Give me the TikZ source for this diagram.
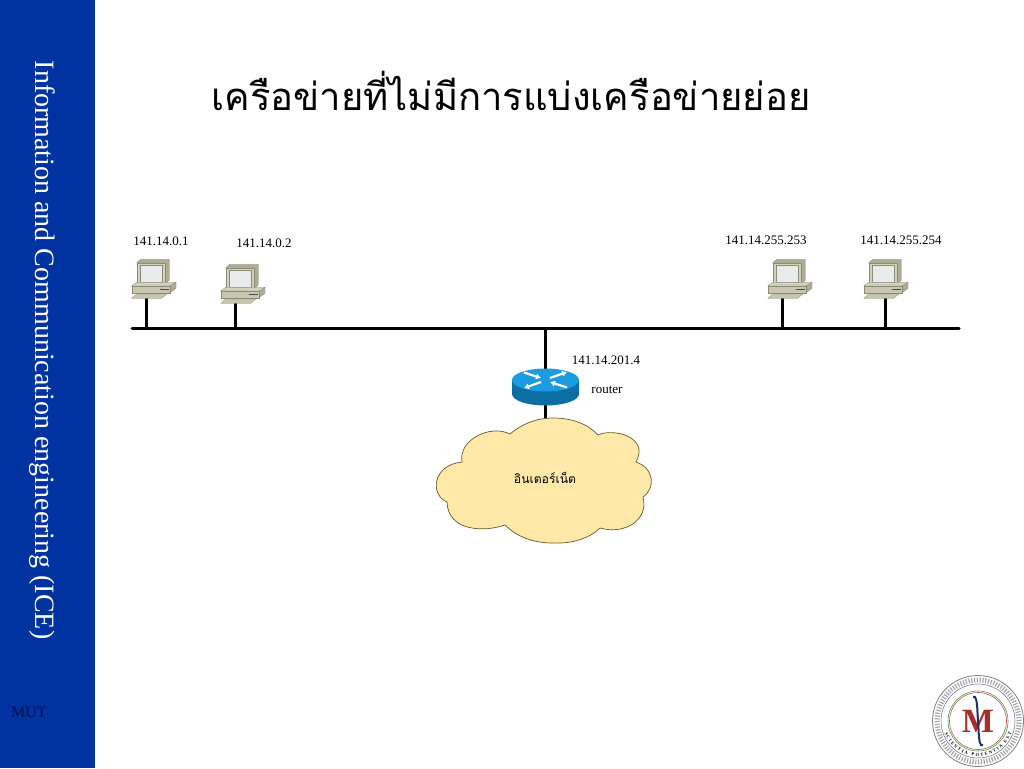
\documentclass[tikz,border=0pt]{standalone}
\usepackage{fontspec}
\setmainfont{Liberation Serif}
\newfontfamily\thaifont[Script=Thai]{Loma}
\usetikzlibrary{arrows.meta}
\usetikzlibrary{decorations.text}
\definecolor{sidebar}{HTML}{0033A0}
\definecolor{mutink}{HTML}{000F50}
\definecolor{pcbody}{HTML}{C8C6AE}
\definecolor{pcside}{HTML}{AEAC94}
\definecolor{pcface}{HTML}{D2D1BC}
\definecolor{pcscreen}{HTML}{E8EBEA}
\definecolor{routertop}{HTML}{1C9BE0}
\definecolor{routerside}{HTML}{0B6FA6}
\definecolor{cloudfill}{HTML}{FFE8A8}
\definecolor{cloudline}{HTML}{6B5A28}
\definecolor{sealred}{HTML}{A82C28}
\definecolor{sealblue}{HTML}{1F2F6B}
\tikzset{
  busline/.style={line width=3pt, line cap=round},
  tapline/.style={line width=3pt},
  iplabel/.style={font=\fontsize{13}{15}\selectfont, inner sep=0pt},
  pcpart/.style={draw=pcside!80!black, line width=0.3pt},
  routerarrow/.style={white, line width=2.2pt, -{Latex[length=5pt,width=6.5pt]}},
  pcicon/.pic={
    \filldraw[pcpart, fill=pcside] (5.7,2.7) -- (9.7,-0.7) -- (38.3,-0.7) -- (38.3,20) -- (34,24.3) -- cycle;
    \filldraw[pcpart, fill=pcface] (5.7,2.7) rectangle (34,24.3);
    \filldraw[pcpart, fill=pcscreen] (9,5) rectangle (31,22);
    \filldraw[pcpart, fill=pcface] (0.7,26) -- (5.7,22.3) -- (45,22.3) -- (39,26) -- cycle;
    \filldraw[pcpart, fill=pcside] (39,26) -- (45,22.3) -- (45,28.3) -- (39,32.7) -- cycle;
    \filldraw[pcpart, fill=pcbody] (0.7,26) rectangle (39,32.7);
    \draw[black!70, line width=0.6pt] (29,29) -- (38,29);
    \filldraw[pcpart, fill=pcbody] (0.7,38.3) -- (5.7,34) -- (35.7,34) -- (30.7,38.3) -- cycle;
  },
}
\begin{document}
\begin{tikzpicture}[x=1pt, y=-1pt]
\useasboundingbox (0,0) rectangle (1024,768);
% side bar
\fill[sidebar] (0,0) rectangle (95,768);
\node[rotate=-90, text=white, font=\fontsize{28}{32}\selectfont, inner sep=0pt] (sidetitle) at (42,350) {Information and Communication engineering (ICE)};
\node[text=mutink, font=\fontsize{16}{18}\selectfont, inner sep=0pt] (mut) at (29,712) {MUT};
% title
\node[font=\thaifont\fontsize{38.2}{44}\selectfont, inner sep=0pt] (title) at (511,91) {เครือข่ายที่ไม่มีการแบ่งเครือข่ายย่อย};

% bus ends and taps
\coordinate (busleft) at (132,328);
\coordinate (busright) at (959,328);
\coordinate (tapa) at (146,328);
\coordinate (tapb) at (235,328);
\coordinate (tapc) at (782,328);
\coordinate (tapd) at (885,328);
\coordinate (taprouter) at (545,328);
\coordinate (porta) at (146,296);
\coordinate (portb) at (235,301);
\coordinate (portc) at (782,296);
\coordinate (portd) at (885,296);
\coordinate (routerup) at (545,380);
\coordinate (routerdown) at (545,404);
\coordinate (cloudtop) at (545,420);

% links
\foreach \n in {a,b,c,d}
{
\draw[tapline] (port\n) -- (tap\n);
}
\draw[tapline] (taprouter) -- (routerup);
\draw[tapline] (routerdown) -- (cloudtop);
\draw[busline] (busleft) -- (busright);

% computers
\pic at (131,260) {pcicon};
\pic at (220,265) {pcicon};
\pic at (767,260) {pcicon};
\pic at (863,260) {pcicon};

% router
\fill[routerside] (512,380) -- (512,394) arc[start angle=180, end angle=360, x radius=33.5, y radius=-11.5] -- (579,380) -- cycle;
\fill[routertop] (545.5,380) ellipse[x radius=33.5, y radius=11.5];
\draw[routerarrow] (524,372.5) -- (541,378);
\draw[routerarrow] (567,387.5) -- (550,382);
\draw[routerarrow] (541,382) -- (524,388);
\draw[routerarrow] (550,378) -- (567,372);

% cloud
\filldraw[fill=cloudfill, draw=cloudline, line width=0.7pt] (510,434)
  .. controls (522,424) and (536,418) .. (553,418)
  .. controls (572,418) and (588,424) .. (598,435)
  .. controls (612,428) and (650,436) .. (636,462)
  .. controls (654,468) and (656,488) .. (643,497)
  .. controls (649,520) and (625,535) .. (600,528)
  .. controls (590,538) and (572,544) .. (553,543)
  .. controls (532,543) and (516,536) .. (505,525)
  .. controls (485,532) and (448,532) .. (447,502)
  .. controls (430,495) and (432,465) .. (462,462)
  .. controls (458,440) and (490,424) .. (510,434) -- cycle;

% texts
\node[font=\thaifont\fontsize{12.2}{14}\selectfont, inner sep=0pt] (internet) at (545,478) {อินเตอร์เน็ต};
\node[iplabel] (ipa) at (161,241) {141.14.0.1};
\node[iplabel] (ipb) at (264,243) {141.14.0.2};
\node[iplabel] (ipc) at (766,240) {141.14.255.253};
\node[iplabel] (ipd) at (901,240) {141.14.255.254};
\node[iplabel] (iprouter) at (606,360) {141.14.201.4};
\node[iplabel] (routername) at (607,390) {router};

% seal
\begin{scope}[shift={(978,721)}, y=1pt]
\fill[white] (0,0) circle[radius=46.5];
\draw[black!50, line width=0.8pt] (0,0) circle[radius=45.5];
\draw[black!35, line width=5pt, dash pattern=on 1.2pt off 1.6pt] (0,0) circle[radius=41];
\draw[sealblue!70, line width=0.5pt] (0,0) circle[radius=37];
\draw[green!45!black!70, line width=0.6pt] (0,0) circle[radius=30];
\draw[sealred!80, line width=0.6pt] (0,0) circle[radius=28.5];
\path[postaction={decorate, decoration={text along path, text align={fit to path},
  text={|\fontsize{4.5}{5}\selectfont\bfseries|SCIENTIA POTENTIA EST}}}]
  (0,0) ++(200:35.5) arc[start angle=200, end angle=340, radius=35.5];
\node[text=sealred, font=\fontsize{34}{36}\selectfont\bfseries, inner sep=0pt] (sealm) at (0,0) {M};
\draw[sealblue, line width=2pt] (-5,24) .. controls (-2,26) and (-1,20) .. (-0.5,8) -- (0.5,-8) .. controls (1,-20) and (2,-26) .. (5,-24);
\end{scope}
\end{tikzpicture}
\end{document}
